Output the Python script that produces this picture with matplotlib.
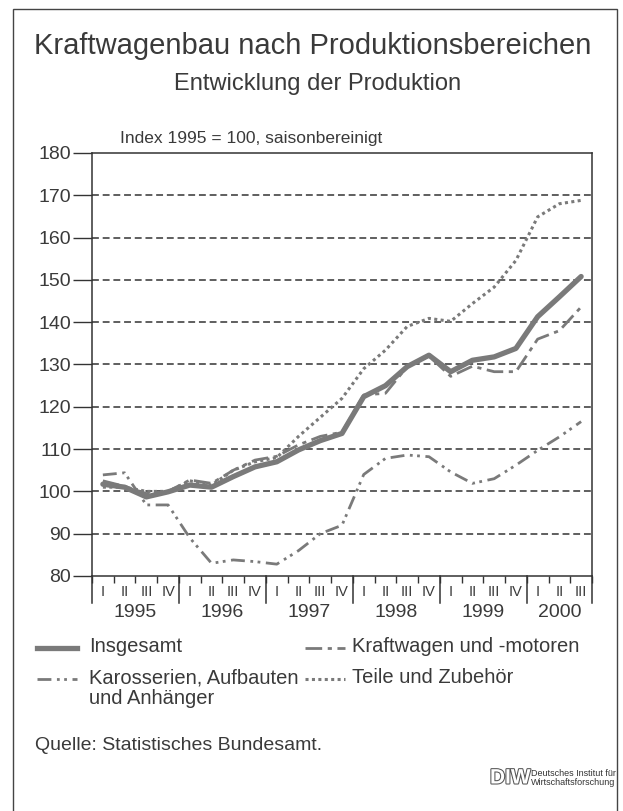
import matplotlib.pyplot as plt
import matplotlib.patheffects as pe
from matplotlib.lines import Line2D
from matplotlib.patches import Rectangle
import numpy as np

plt.rcParams['font.family'] = ['Liberation Sans', 'DejaVu Sans']

# quarterly index values, 1995 I .. 2000 III (1995 = 100, seasonally adjusted)
quarters = ["I", "II", "III", "IV"] * 5 + ["I", "II", "III"]
years = ["1995", "1996", "1997", "1998", "1999", "2000"]

insgesamt = [101.7, 101.0, 98.7, 99.9, 101.5, 101.0, 103.5, 105.8, 107.0, 109.8, 112.0, 113.7,
             122.4, 125.0, 129.5, 132.2, 128.3, 131.0, 131.8, 133.8, 141.3, 146.0, 150.8]
kraftwagen = [102.5, 101.2, 99.5, 100.0, 102.7, 101.9, 105.0, 107.4, 108.3, 111.0, 113.0, 114.0,
              122.8, 123.2, 129.5, 132.0, 127.2, 129.6, 128.3, 128.3, 136.0, 138.0, 143.6]
karosserien = [103.9, 104.4, 96.8, 96.8, 89.0, 83.0, 83.8, 83.4, 82.8, 86.0, 90.0, 92.0,
               104.0, 107.8, 108.6, 108.2, 104.6, 101.9, 103.0, 106.2, 109.7, 112.9, 116.5]
teile = [101.0, 101.0, 100.0, 100.0, 102.5, 101.5, 105.0, 107.0, 108.0, 113.0, 117.5, 122.0,
         129.0, 133.4, 139.0, 140.9, 140.2, 144.4, 148.3, 154.6, 164.9, 168.0, 168.8]

txt = '#3a3a3a'
line_c = '#7a7a7a'

W, H = 623, 811
fig = plt.figure(figsize=(W / 100, H / 100), dpi=100)

def fx(px):
    return px / W

def fy(py):
    return 1 - py / H

# outer frame (open at the bottom edge of the picture)
fig.add_artist(Rectangle((fx(13), fy(830)), fx(617) - fx(13), fy(9) - fy(830),
                         transform=fig.transFigure, fill=False, ec='#444444', lw=1.0))

fig.text(fx(313), fy(46), "Kraftwagenbau nach Produktionsbereichen", ha='center', va='center',
         fontsize=21, color=txt)
fig.text(fx(318), fy(84), "Entwicklung der Produktion", ha='center', va='center',
         fontsize=17, color=txt)

ax = fig.add_axes([fx(92), fy(576), fx(592) - fx(92), fy(153) - fy(576)])
x = np.arange(len(quarters)) + 0.5

ax.plot(x, teile, color=line_c, lw=2.2, linestyle=(0, (1, 1.1)))
ax.plot(x, karosserien, color=line_c, lw=2.0, linestyle=(0, (5, 2, 1, 1.6, 1, 2)))
ax.plot(x, kraftwagen, color=line_c, lw=2.0, linestyle=(0, (6, 2, 1.5, 2)))
ax.plot(x, insgesamt, color=line_c, lw=3.8, solid_capstyle='round')

ax.set_xlim(0, len(quarters))
ax.set_ylim(80, 180)
ax.set_yticks(np.arange(80, 181, 10))
ax.tick_params(axis='y', direction='out', length=14, width=1.0, colors='#333333',
               labelsize=14, labelcolor=txt, pad=1)
for v in range(90, 180, 10):
    ax.axhline(v, color='#333333', lw=1.1, linestyle=(0, (4.5, 2.5)), zorder=0)

ax.set_xticks(np.arange(0, len(quarters) + 1))
ax.tick_params(axis='x', direction='out', length=5, width=1.0, colors='#333333', labelbottom=False)
for s in ax.spines.values():
    s.set_color('#333333')
    s.set_linewidth(1.1)

tb = ax.get_xaxis_transform()
for i, q in enumerate(quarters):
    ax.text(i + 0.5, -0.038, q, transform=tb, ha='center', va='center', fontsize=10.5,
            color=txt, fontstretch='condensed')
bounds = [0, 4, 8, 12, 16, 20, 23]
for b in bounds:
    ax.plot([b, b], [0, -0.063], transform=tb, color='#333333', lw=1.1, clip_on=False)
for k, yr in enumerate(years):
    mid = (bounds[k] + bounds[k + 1]) / 2
    ax.text(mid, -0.087, yr, transform=tb, ha='center', va='center', fontsize=14, color=txt)

fig.text(fx(120), fy(138), "Index 1995 = 100, saisonbereinigt", ha='left', va='center',
         fontsize=12.5, color=txt)

# legend
legend_items = [
    ("Insgesamt", dict(lw=3.8, linestyle='-'), 37, 648, 52),
    ("Kraftwagen und -motoren", dict(lw=2.0, linestyle=(0, (6, 2, 1.5, 2))), 305, 648, 47),
    ("Karosserien, Aufbauten\nund Anhänger", dict(lw=2.0, linestyle=(0, (5, 2, 1, 1.6, 1, 2))), 37, 679, 52),
    ("Teile und Zubehör", dict(lw=2.2, linestyle=(0, (1, 1.1))), 305, 679, 47),
]
for label, style, lx, ly, off in legend_items:
    fig.add_artist(Line2D([fx(lx), fx(lx + 40)], [fy(ly), fy(ly)], transform=fig.transFigure,
                          color=line_c, **style))
    fig.text(fx(lx + off), fy(ly - 11), label, ha='left', va='top', fontsize=14.5,
             color=txt, linespacing=1.15)

fig.text(fx(35), fy(745), "Quelle: Statistisches Bundesamt.", ha='left', va='center',
         fontsize=14, color=txt)

# DIW logo
fig.text(fx(490), fy(778), "DIW", ha='left', va='center', fontsize=15, fontweight='bold',
         color='white', path_effects=[pe.withStroke(linewidth=1.5, foreground='#555555')])
fig.text(fx(531), fy(778), "Deutsches Institut für\nWirtschaftsforschung", ha='left', va='center',
         fontsize=6.5, color='#333333', linespacing=1.0)

fig.savefig("out.png", dpi=100, facecolor='white')
